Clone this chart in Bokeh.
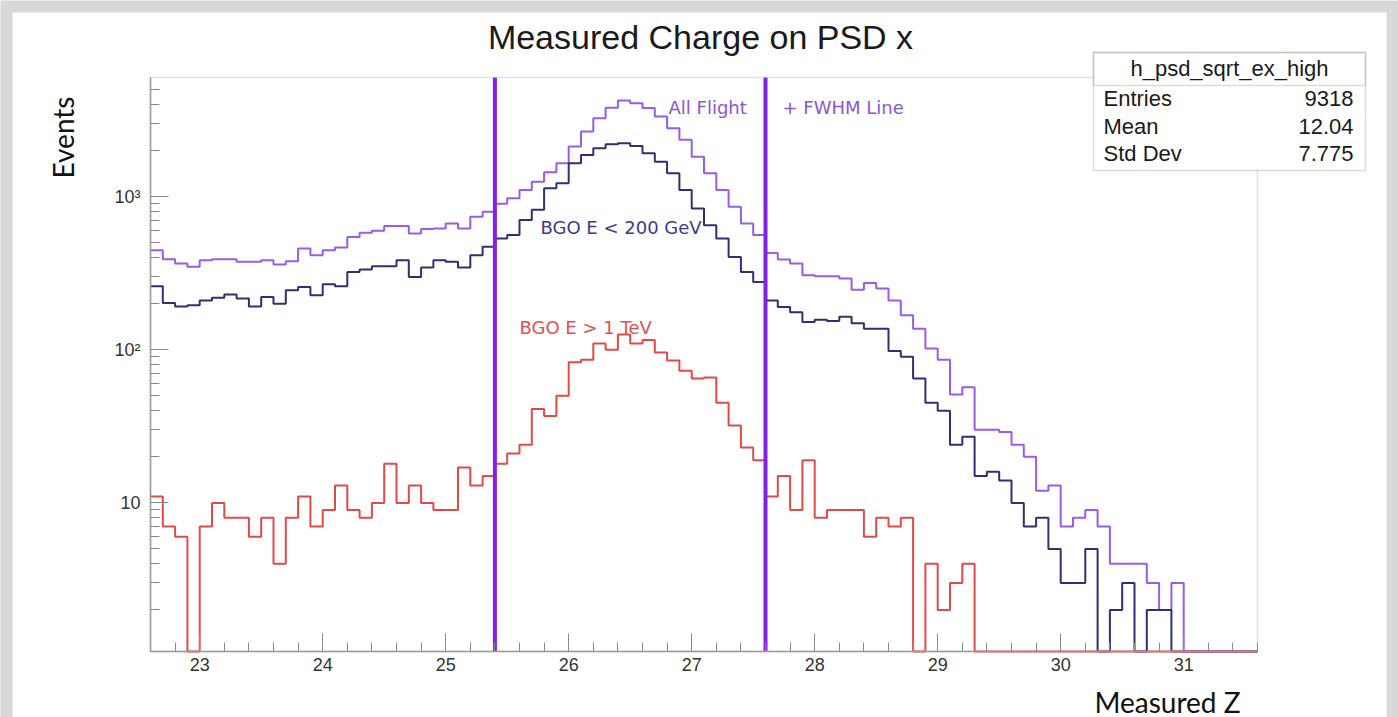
import numpy as np
from bokeh.plotting import figure
from bokeh.models import (FixedTicker, Label, BoxAnnotation, LinearAxis, LogAxis)
from bokeh.embed import file_html
from bokeh.resources import INLINE

# ---------------- data ----------------
x_start = 22.6
bin_width = 0.1
n_bins = 90

all_flight = [
    447, 390, 366, 348, 384, 390, 390, 375, 375, 384,
    360, 379, 459, 414, 447, 466, 546, 580, 598, 642,
    642, 575, 614, 620, 668, 620, 738, 796, 900, 975,
    1105, 1253, 1443, 1652, 2123, 2661, 3256, 3800, 4250, 4080,
    3790, 3335, 2800, 2350, 1825, 1420, 1105, 859, 668, 561,
    429, 388, 366, 307, 302, 302, 292, 247, 273, 251,
    210, 168, 137, 102, 86, 51, 57, 30, 30, 29,
    24, 20, 12, 13, 7, 8, 9, 7, 4, 4,
    4, 3, 2, 3, 0, 0, 0, 0, 0, 0,
]
bgo_low = [
    260, 202, 192, 195, 210, 219, 230, 216, 192, 221,
    200, 245, 257, 227, 268, 260, 322, 334, 351, 351,
    384, 299, 344, 384, 375, 344, 414, 470, 533, 561,
    703, 820, 1133, 1222, 1652, 1872, 2070, 2200, 2233, 2142,
    1920, 1693, 1420, 1105, 838, 651, 533, 404, 322, 277,
    210, 190, 176, 152, 157, 154, 164, 149, 137, 137,
    98, 90, 65, 45, 40, 24, 27, 15, 16, 14,
    10, 7, 8, 5, 3, 3, 5, 0, 2, 3,
    0, 2, 2, 0, 0, 0, 0, 0, 0, 0,
]
bgo_high = [
    11, 7, 6, 0, 7, 10, 8, 8, 6, 8,
    4, 8, 11, 7, 9, 13, 9, 8, 10, 18,
    10, 13, 10, 9, 9, 17, 13, 15, 18, 21,
    24, 41, 37, 50, 83, 86, 110, 100, 126, 110,
    116, 96, 85, 73, 65, 66, 45, 32, 23, 19,
    11, 15, 9, 19, 8, 9, 9, 9, 6, 8,
    7, 8, 0, 4, 2, 3, 4, 0, 0, 0,
    0, 0, 0, 0, 0, 0, 0, 0, 0, 0,
    0, 0, 0, 0, 0, 0, 0, 0, 0, 0,
]
fwhm_lines = [25.4, 27.6]
x_major = [23, 24, 25, 26, 27, 28, 29, 30, 31]
y_major = [10, 100, 1000]
y_major_labels = ["10", "10\u00b2", "10\u00b3"]
stats_name = "h_psd_sqrt_ex_high"
stats_rows = [("Entries", "9318"), ("Mean", "12.04"), ("Std Dev", "7.775")]

# ---------------- layout constants ----------------
W, H = 1398, 717
FL, FT, FR, FB = 150, 77, 1257, 651          # inner (axes) frame, canvas pixels
XMIN, XMAX = x_start, x_start + bin_width * n_bins
YMIN, YMAX = 1.07, 6000

px_per_x = (FR - FL) / (XMAX - XMIN)
ly0, ly1 = np.log10(YMIN), np.log10(YMAX)
px_per_dec = (FB - FT) / (ly1 - ly0)
x_lo = XMIN - FL / px_per_x
x_hi = XMAX + (W - FR) / px_per_x
y_lo = 10 ** (ly0 - (H - FB) / px_per_dec)
y_hi = 10 ** (ly1 + FT / px_per_dec)

edges = np.round(x_start + bin_width * np.arange(n_bins + 1), 2)

p = figure(width=W, height=H, output_backend="svg", toolbar_location=None,
           x_range=(x_lo, x_hi), y_range=(y_lo, y_hi),
           y_axis_type="log", x_axis_location=None, y_axis_location=None,
           min_border=0)
p.background_fill_color = "#d8d8d8"
p.border_fill_color = "#d8d8d8"
p.outline_line_color = None
p.xgrid.visible = False
p.ygrid.visible = False


def sx(cx):
    return cx


def sy(cy):
    return H - cy


def box(x0, x1, y0, y1, **kw):
    return BoxAnnotation(left=sx(x0), right=sx(x1), top=sy(y0), bottom=sy(y1),
                         left_units="screen", right_units="screen",
                         top_units="screen", bottom_units="screen", **kw)


# white page area with gray margin
p.add_layout(box(12, 1386, 12, H + 10, fill_color="white", fill_alpha=1.0,
                 line_color=None, level="underlay"))


def hist(vals, color):
    yv = [v if v > 0 else YMIN for v in vals]
    yv = yv + [yv[-1]]
    p.step(x=list(edges), y=yv, mode="after", line_color=color, line_width=2)


hist(all_flight, "#9b5be6")
hist(bgo_low, "#2e3072")
hist(bgo_high, "#e24a4a")

p.segment(x0=fwhm_lines, x1=fwhm_lines, y0=[YMIN] * len(fwhm_lines),
          y1=[YMAX] * len(fwhm_lines), line_color="#8420ee", line_width=4)

# inner frame outline
p.add_layout(box(FL, FR, FT, FB, fill_alpha=0.0, line_color="#9a9a9a",
                 line_width=1.5))

# axes drawn at the inner frame edges
xa = LinearAxis(fixed_location=YMIN, bounds=(XMIN, XMAX))
xa.ticker = FixedTicker(ticks=x_major,
                        minor_ticks=[round(XMIN + 0.2 * k, 1) for k in range(46)])
minors = [m * d for d in [1, 10, 100, 1000] for m in range(2, 10)
          if YMIN < m * d < YMAX]
ya = LogAxis(fixed_location=XMIN, bounds=(YMIN, YMAX))
ya.ticker = FixedTicker(ticks=y_major, minor_ticks=minors)
ya.major_label_overrides = {t: lab for t, lab in zip(y_major, y_major_labels)}
for ax in (xa, ya):
    ax.axis_line_color = "#9a9a9a"
    ax.axis_line_width = 1.5
    ax.major_tick_line_color = "#8a8a8a"
    ax.minor_tick_line_color = "#8a8a8a"
    ax.major_tick_in = 18
    ax.major_tick_out = 0
    ax.minor_tick_in = 9
    ax.minor_tick_out = 0
    ax.major_label_text_font = "Liberation Sans"
    ax.major_label_text_font_size = "18px"
    ax.major_label_text_color = "#333333"
xa.major_label_standoff = 6
ya.major_label_standoff = 10
p.add_layout(xa, "below")
p.add_layout(ya, "left")

# titles
p.add_layout(Label(x=sx(700), y=sy(36), x_units="screen", y_units="screen",
                   text="Measured Charge on PSD x", text_align="center",
                   text_baseline="middle", text_font="Liberation Sans",
                   text_font_size="34px", text_color="#1a1a1a"))
p.add_layout(Label(x=sx(62), y=sy(137), x_units="screen", y_units="screen",
                   text="Events", angle=np.pi / 2, text_align="center",
                   text_baseline="middle", text_font="Lato",
                   text_font_size="28px", text_color="#111111"))
p.add_layout(Label(x=sx(1240), y=sy(701), x_units="screen", y_units="screen",
                   text="Measured Z", text_align="right",
                   text_baseline="middle", text_font="Lato",
                   text_font_size="28px", text_color="#111111"))


def note(cx, cy, txt, color):
    p.add_layout(Label(x=sx(cx), y=sy(cy), x_units="screen", y_units="screen",
                       text=txt, text_align="left", text_baseline="middle",
                       text_font="DejaVu Sans", text_font_size="18px",
                       text_color=color))


note(668, 107, "All Flight", "#8b55d6")
note(782, 107, "+ FWHM Line", "#8b55d6")
note(540, 227, "BGO E < 200 GeV", "#3a3d85")
note(519, 327, "BGO E > 1 TeV", "#e05050")

# stats box
BX0, BX1, BY0, BY1, BYH = 1093, 1365, 52, 170, 85
p.add_layout(box(BX0, BX1, BY0, BY1, fill_color="white", fill_alpha=1.0,
                 line_color="#8a8a8a", line_width=1.5))
p.add_layout(box(BX0, BX1, BY0, BYH, fill_alpha=0.0, line_color="#8a8a8a",
                 line_width=1.5))
p.add_layout(Label(x=sx((BX0 + BX1) / 2), y=sy(68), x_units="screen", y_units="screen",
                   text=stats_name, text_align="center", text_baseline="middle",
                   text_font="Liberation Sans", text_font_size="22px",
                   text_color="#1a1a1a"))
for i, (k, v) in enumerate(stats_rows):
    cy = 98 + i * 27.5
    p.add_layout(Label(x=sx(BX0 + 10), y=sy(cy), x_units="screen", y_units="screen",
                       text=k, text_align="left", text_baseline="middle",
                       text_font="Liberation Sans", text_font_size="22px",
                       text_color="#1a1a1a"))
    p.add_layout(Label(x=sx(BX1 - 12), y=sy(cy), x_units="screen", y_units="screen",
                       text=v, text_align="right", text_baseline="middle",
                       text_font="Liberation Sans", text_font_size="22px",
                       text_color="#1a1a1a"))

open("out.html", "w").write(file_html(p, INLINE))
